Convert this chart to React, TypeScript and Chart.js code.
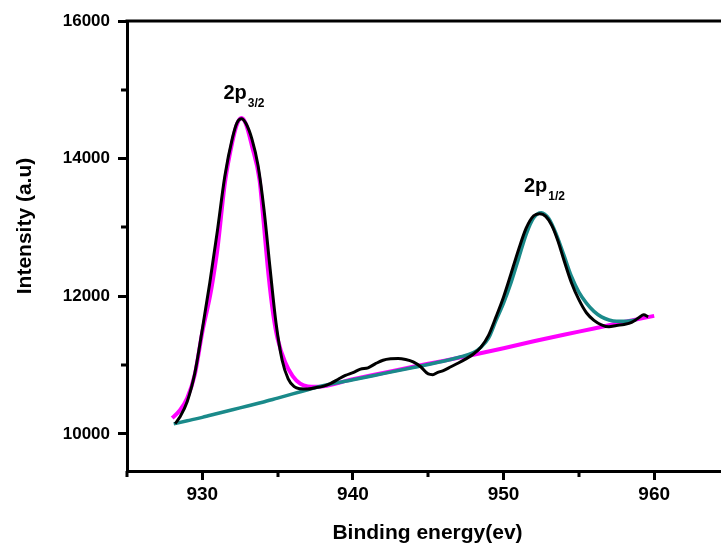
import React, { useEffect, useRef } from 'react';
import { Chart, registerables } from 'chart.js';

Chart.register(...registerables);

// Measured XPS spectrum (black)
const measX = [928.2, 928.5, 929.0, 929.5, 930.0, 930.5, 931.0, 931.5, 932.0, 932.3, 932.6, 932.9, 933.3, 933.7, 934.1, 934.5, 934.9, 935.3, 935.7, 936.1, 936.5, 937.0, 937.5, 938.0, 938.5, 939.0, 939.5, 940.0, 940.5, 941.0, 941.5, 942.0, 942.5, 943.0, 943.5, 944.0, 944.5, 945.0, 945.3, 945.6, 946.0, 946.5, 947.0, 947.5, 948.0, 948.5, 949.0, 949.5, 950.0, 950.5, 951.0, 951.5, 952.0, 952.4, 952.8, 953.2, 953.6, 954.0, 954.5, 955.0, 955.5, 956.0, 956.5, 957.0, 957.5, 958.0, 958.5, 959.0, 959.3, 959.6];
const measY = [10150, 10240, 10470, 10880, 11520, 12200, 12950, 13750, 14300, 14520, 14580, 14510, 14280, 13900, 13250, 12400, 11600, 11070, 10800, 10685, 10655, 10650, 10670, 10690, 10730, 10790, 10850, 10890, 10940, 10960, 11020, 11070, 11090, 11095, 11080, 11045, 10975, 10870, 10860, 10890, 10920, 10975, 11030, 11090, 11160, 11260, 11430, 11700, 11990, 12330, 12680, 12990, 13170, 13200, 13160, 13030, 12810, 12530, 12200, 11950, 11760, 11650, 11585, 11555, 11575, 11590, 11620, 11690, 11730, 11700];

// 2p3/2 fit + background (magenta)
const fit1X = [928.0, 928.5, 929.0, 929.5, 930.0, 930.5, 930.7, 931.0, 931.5, 932.0, 932.3, 932.6, 932.9, 933.3, 933.8, 934.0, 934.4, 934.7, 935.0, 935.5, 936.0, 936.5, 937.0, 937.6, 940.0, 942.0, 944.0, 946.0, 948.0, 950.0, 952.0, 954.0, 956.0, 958.0, 960.0];
const fit1Y = [10230, 10340, 10520, 10860, 11480, 11990, 12237, 12680, 13650, 14250, 14500, 14590, 14500, 14180, 13690, 13250, 12300, 11750, 11380, 11040, 10840, 10730, 10690, 10683, 10795, 10885, 10975, 11060, 11150, 11245, 11345, 11440, 11530, 11625, 11715];

// 2p1/2 fit + background (teal)
const fit2X = [928.1, 929.0, 930.0, 931.0, 932.0, 933.0, 934.0, 935.0, 936.0, 937.0, 938.0, 940.0, 942.0, 944.0, 946.0, 947.0, 948.0, 948.5, 949.0, 949.5, 950.0, 950.5, 951.0, 951.5, 952.0, 952.5, 953.0, 953.5, 954.0, 954.5, 955.0, 955.5, 956.0, 956.5, 957.0, 957.5, 958.0, 958.5, 958.8];
const fit2Y = [10145, 10190, 10240, 10295, 10350, 10405, 10460, 10520, 10580, 10640, 10700, 10785, 10875, 10965, 11055, 11110, 11180, 11260, 11390, 11650, 11900, 12200, 12550, 12900, 13140, 13215, 13130, 12900, 12600, 12290, 12060, 11900, 11780, 11700, 11655, 11635, 11635, 11645, 11655];

const xTickValues = [930, 940, 950, 960];
const yTickValues = [10000, 12000, 14000, 16000];
const xMinorTicks = [925, 935, 945, 955];
const yMinorTicks = [11000, 13000, 15000];

const peakMain = ['2p', '2p'];
const peakSub = ['3/2', '1/2'];
const peakLabelX = [931.4, 951.35];
const peakLabelY = [14870, 13517];

const xTitle = 'Binding energy(ev)';
const yTitle = 'Intensity (a.u)';

const FONT = '"Liberation Sans", Arial, Helvetica, sans-serif';

export default function App() {
  const ref = useRef<HTMLCanvasElement>(null);

  useEffect(() => {
    const pts = (xs: number[], ys: number[]) => xs.map((x, i) => ({ x, y: ys[i] }));

    const decor = {
      id: 'decor',
      afterDraw(chart: any) {
        const { ctx, chartArea } = chart;
        const xs = chart.scales.x;
        const ys = chart.scales.y;
        ctx.save();
        ctx.strokeStyle = '#000';
        ctx.lineWidth = 3;
        ctx.lineCap = 'butt';
        // top and right frame
        ctx.beginPath();
        ctx.moveTo(chartArea.left - 1.5, chartArea.top);
        ctx.lineTo(chartArea.right + 1.5, chartArea.top);
        ctx.moveTo(chartArea.right, chartArea.top);
        ctx.lineTo(chartArea.right, chartArea.bottom);
        ctx.stroke();
        // minor ticks
        ctx.beginPath();
        xMinorTicks.forEach((v) => {
          const p = Math.round(xs.getPixelForValue(v));
          ctx.moveTo(p, chartArea.bottom);
          ctx.lineTo(p, chartArea.bottom + 6);
        });
        yMinorTicks.forEach((v) => {
          const p = Math.round(ys.getPixelForValue(v));
          ctx.moveTo(chartArea.left, p);
          ctx.lineTo(chartArea.left - 6, p);
        });
        ctx.stroke();

        ctx.fillStyle = '#000';
        // peak labels
        peakMain.forEach((t, i) => {
          const px = xs.getPixelForValue(peakLabelX[i]);
          const py = ys.getPixelForValue(peakLabelY[i]);
          ctx.font = `bold 20px ${FONT}`;
          ctx.textAlign = 'left';
          ctx.textBaseline = 'alphabetic';
          ctx.fillText(t, px, py);
          const w = ctx.measureText(t).width;
          ctx.font = `bold 12px ${FONT}`;
          ctx.fillText(peakSub[i], px + w + 1, py + 8);
        });

        // axis titles
        ctx.font = `bold 21px ${FONT}`;
        ctx.textAlign = 'center';
        ctx.textBaseline = 'middle';
        ctx.fillText(xTitle, (chartArea.left + chartArea.right) / 2, 533);
        ctx.translate(25, 226);
        ctx.rotate(-Math.PI / 2);
        ctx.fillText(yTitle, 0, 0);
        ctx.restore();
      },
    };

    const chart = new Chart(ref.current as HTMLCanvasElement, {
      type: 'line',
      data: {
        datasets: [
          {
            data: pts(measX, measY),
            borderColor: '#000000',
            borderWidth: 3,
            pointRadius: 0,
            fill: false,
            cubicInterpolationMode: 'monotone',
          },
          {
            data: pts(fit2X, fit2Y),
            borderColor: '#1a8a8a',
            borderWidth: 3.5,
            pointRadius: 0,
            fill: false,
            cubicInterpolationMode: 'monotone',
          },
          {
            data: pts(fit1X, fit1Y),
            borderColor: '#ff00ff',
            borderWidth: 4,
            pointRadius: 0,
            fill: false,
            cubicInterpolationMode: 'monotone',
          },
        ],
      } as any,
      options: {
        animation: false,
        responsive: false,
        maintainAspectRatio: false,
        layout: { padding: { left: 0, top: 21, right: 12, bottom: 0 } },
        plugins: {
          legend: { display: false },
          tooltip: { enabled: false },
          title: { display: false },
        },
        scales: {
          x: {
            type: 'linear',
            position: 'bottom',
            min: 925,
            max: 964.9,
            afterBuildTicks: (s: any) => {
              s.ticks = xTickValues.map((v) => ({ value: v }));
            },
            afterFit: (s: any) => {
              s.height = 73;
            },
            grid: {
              display: true,
              drawOnChartArea: false,
              drawTicks: true,
              tickLength: 9,
              tickWidth: 3,
              tickColor: '#000',
            },
            border: { display: true, width: 3, color: '#000' },
            ticks: {
              autoSkip: false,
              maxRotation: 0,
              padding: 3,
              color: '#000',
              font: { family: FONT, size: 19, weight: 'bold' },
              callback: (v: any) => String(v),
            },
          },
          y: {
            type: 'linear',
            position: 'left',
            min: 9460,
            max: 16000,
            afterBuildTicks: (s: any) => {
              s.ticks = yTickValues.map((v) => ({ value: v }));
            },
            afterFit: (s: any) => {
              s.width = 127;
            },
            grid: {
              display: true,
              drawOnChartArea: false,
              drawTicks: true,
              tickLength: 9,
              tickWidth: 3,
              tickColor: '#000',
            },
            border: { display: true, width: 3, color: '#000' },
            ticks: {
              autoSkip: false,
              padding: 8,
              color: '#000',
              font: { family: FONT, size: 17, weight: 'bold' },
              callback: (v: any) => String(v),
            },
          },
        },
      } as any,
      plugins: [decor],
    });
    return () => chart.destroy();
  }, []);

  return (
    <div
      style={{
        position: 'fixed',
        left: 0,
        top: 0,
        width: 721,
        height: 544,
        overflow: 'hidden',
        background: '#fff',
      }}
    >
      <canvas ref={ref} width={740} height={544} style={{ display: 'block' }} />
    </div>
  );
}
